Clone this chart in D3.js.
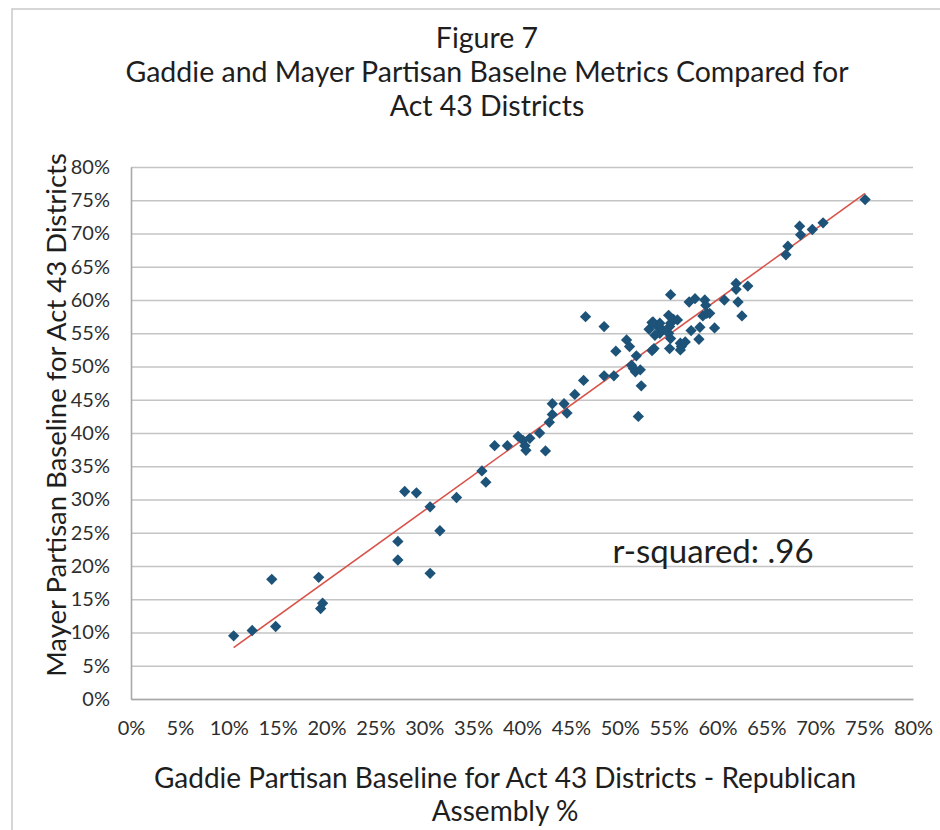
<!DOCTYPE html>
<html>
<head>
<meta charset="utf-8">
<script src="https://cdn.jsdelivr.net/npm/d3@7/dist/d3.min.js"></script>
<style>
  html, body { margin: 0; padding: 0; background: #fff; }
  svg { display: block; font-family: Lato, "Open Sans", sans-serif; }
</style>
</head>
<body>
<svg id="chart" width="940" height="830"></svg>
<script>
// Gaddie baseline (x) and Mayer baseline (y), Republican Assembly %, per Act 43 district
const gaddie = [
  10.5, 12.4, 14.4, 14.8, 19.2, 19.4, 19.6, 27.3, 27.3, 28.0,
  29.2, 30.6, 30.6, 31.6, 33.3, 35.9, 36.3, 37.2, 38.5, 39.6,
  40.1, 40.3, 40.4, 40.8, 41.8, 42.4, 42.8, 43.1, 43.1, 44.3,
  44.6, 45.4, 46.3, 46.5, 48.4, 48.4, 49.4, 49.6, 50.7, 51.0,
  51.2, 51.4, 51.7, 51.6, 52.1, 52.2, 51.9, 53.3, 53.5, 53.0,
  53.3, 53.8, 54.1, 54.3, 53.6, 54.1, 53.4, 55.0, 55.2, 55.5,
  55.9, 55.0, 55.2, 55.1, 55.1, 56.2, 56.3, 56.2, 56.7, 55.2,
  57.1, 57.7, 57.3, 58.2, 58.1, 58.7, 58.8, 58.9, 58.5, 59.2,
  59.7, 60.7, 61.9, 61.9, 63.1, 62.1, 62.5, 67.0, 67.2, 68.4,
  68.5, 69.7, 70.8, 75.1
];
const mayer = [
   9.5, 10.3, 18.0, 10.9, 18.3, 13.6, 14.4, 23.7, 20.9, 31.2,
  31.0, 18.9, 28.9, 25.3, 30.3, 34.3, 32.6, 38.1, 38.1, 39.5,
  38.9, 38.1, 37.4, 39.2, 40.0, 37.3, 41.6, 42.8, 44.4, 44.4,
  43.0, 45.8, 47.9, 57.5, 56.0, 48.6, 48.6, 52.3, 54.0, 53.0,
  50.2, 49.7, 51.6, 49.2, 49.5, 47.1, 42.5, 52.4, 52.7, 55.6,
  56.6, 56.1, 55.0, 55.6, 54.7, 56.5, 56.7, 57.7, 56.5, 57.1,
  57.0, 55.0, 54.2, 52.7, 56.0, 53.5, 53.0, 52.5, 53.7, 60.8,
  59.7, 60.2, 55.4, 55.9, 54.1, 60.0, 59.2, 58.0, 57.6, 58.0,
  55.8, 60.0, 62.5, 61.6, 62.1, 59.7, 57.6, 66.8, 68.1, 71.1,
  69.8, 70.6, 71.6, 75.1
];
const tickValues = d3.range(0, 81, 5);
const titleLines = [
  "Figure 7",
  "Gaddie and Mayer Partisan Baselne Metrics Compared for",
  "Act 43 Districts"
];
const xTitleLines = [
  "Gaddie Partisan Baseline for Act 43 Districts - Republican",
  "Assembly %"
];
const yTitle = "Mayer Partisan Baseline for Act 43 Districts";
const rSquaredLabel = "r-squared: .96";

const points = gaddie.map((g, i) => ({ x: g, y: mayer[i] }));

const svg = d3.select("#chart");
const plot = { left: 131, right: 913, top: 167, bottom: 699 };

const x = d3.scaleLinear().domain([0, 80]).range([plot.left, plot.right]);
const y = d3.scaleLinear().domain([0, 80]).range([plot.bottom, plot.top]);
const pct = d => d + "%";

// outer chart frame
svg.append("rect")
  .attr("x", 12).attr("y", 9).attr("width", 940).attr("height", 840)
  .attr("fill", "#fff").attr("stroke", "#c9c9c9").attr("stroke-width", 1.5);

// title
svg.append("g").selectAll("text").data(titleLines).join("text")
  .attr("x", 487).attr("y", (d, i) => 48 + i * 34)
  .attr("text-anchor", "middle")
  .attr("font-size", 28.5).attr("fill", "#1e1e1e")
  .text(d => d);

// horizontal gridlines
svg.append("g")
  .attr("transform", `translate(${plot.left},0)`)
  .call(d3.axisLeft(y).tickValues(tickValues).tickSize(-(plot.right - plot.left)).tickFormat(""))
  .call(g => g.select(".domain").remove())
  .call(g => g.selectAll("line").attr("stroke", "#c4c4c4").attr("stroke-width", 1.6));

// y axis labels
svg.append("g")
  .attr("transform", `translate(${plot.left},0)`)
  .call(d3.axisLeft(y).tickValues(tickValues).tickSize(0).tickPadding(21).tickFormat(pct))
  .call(g => g.select(".domain").attr("stroke", "#a9a9a9").attr("stroke-width", 1.6))
  .call(g => g.selectAll("text").attr("font-size", 20).attr("fill", "#2e2e2e")
    .attr("font-family", "Lato, sans-serif"));

// x axis labels
svg.append("g")
  .attr("transform", `translate(0,${plot.bottom})`)
  .call(d3.axisBottom(x).tickValues(tickValues).tickSize(0).tickPadding(22).tickFormat(pct))
  .call(g => g.select(".domain").attr("stroke", "#a9a9a9").attr("stroke-width", 1.6))
  .call(g => g.selectAll("text").attr("font-size", 20).attr("fill", "#2e2e2e")
    .attr("font-family", "Lato, sans-serif"));

// least-squares trendline
const mx = d3.mean(points, d => d.x), my = d3.mean(points, d => d.y);
const sxy = d3.sum(points, d => (d.x - mx) * (d.y - my));
const sxx = d3.sum(points, d => (d.x - mx) ** 2);
const slope = sxy / sxx, intercept = my - slope * mx;
const [x0, x1] = d3.extent(points, d => d.x);
svg.append("line")
  .attr("x1", x(x0)).attr("y1", y(intercept + slope * x0))
  .attr("x2", x(x1)).attr("y2", y(intercept + slope * x1))
  .attr("stroke", "#d9534a").attr("stroke-width", 1.6);

// diamond markers (squares turned 45 degrees)
const marker = d3.symbol().type(d3.symbolSquare).size(64);
svg.append("g").selectAll("path").data(points).join("path")
  .attr("d", marker)
  .attr("transform", d => `translate(${x(d.x)},${y(d.y)}) rotate(45)`)
  .attr("fill", "#1d5378");

// r-squared annotation
svg.append("text")
  .attr("x", 713).attr("y", 563)
  .attr("text-anchor", "middle")
  .attr("font-size", 33).attr("fill", "#1e1e1e")
  .text(rSquaredLabel);

// axis titles
svg.append("g").selectAll("text").data(xTitleLines).join("text")
  .attr("x", 505).attr("y", (d, i) => 788 + i * 33)
  .attr("text-anchor", "middle")
  .attr("font-size", 28).attr("fill", "#1e1e1e")
  .text(d => d);

svg.append("text")
  .attr("transform", "translate(66,415) rotate(-90)")
  .attr("text-anchor", "middle")
  .attr("font-size", 27.5).attr("fill", "#1e1e1e")
  .text(yTitle);
</script>
</body>
</html>
